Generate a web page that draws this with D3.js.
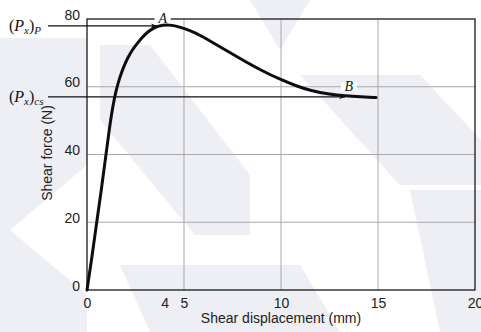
<!DOCTYPE html>
<html>
<head>
<meta charset="utf-8">
<script src="https://cdn.jsdelivr.net/npm/d3@7"></script>
<style>
  body { margin: 0; background: #fff; }
  svg { display: block; }
</style>
</head>
<body>
<div id="chart"></div>
<script>
// Shear force vs shear displacement
const shearDisp  = [0, 0.25, 0.5, 0.75, 0.98, 1.15, 1.32, 1.5, 1.7, 1.9, 2.1, 2.35, 2.6, 3.0, 3.4, 3.9, 4.4, 4.8, 5.3, 5.8, 6.5, 7.3, 8.2, 9.0, 9.9, 10.8, 11.6, 12.5, 13.3, 14.1, 14.9];
const shearForce = [0, 9.5, 20, 30, 40, 47.5, 54, 59, 63, 66, 68.6, 71, 72.9, 75.6, 77.4, 78.3, 78.2, 77.6, 76.6, 75.3, 73, 70.3, 67.3, 64.8, 62.3, 60.2, 58.7, 57.8, 57.3, 57, 56.8];

const xTicks = [0, 4, 5, 10, 15, 20];
const yTicks = [0, 20, 40, 60, 80];
const xGrid = [5, 10, 15];
const yGrid = [20, 40, 60];

const peakForce = 78, peakDisp = 3.6;    // (Px)p, point A
const csForce = 57, csDisp = 13.3;       // (Px)cs, point B

const W = 481, H = 332;
const margin = { top: 19, right: 5, bottom: 42, left: 87 };

const svg = d3.select("#chart").append("svg")
  .attr("width", W)
  .attr("height", H);

// faint watermark shapes in the background
const wm = [
  [[0,38],[87,38],[87,165],[10,230],[87,295],[87,332],[0,332]],
  [[100,45],[150,45],[250,175],[250,235],[195,235],[100,120]],
  [[250,0],[310,0],[280,50]],
  [[300,75],[420,75],[481,140],[481,185],[400,185]],
  [[120,265],[300,265],[340,332],[150,332]],
  [[410,190],[481,190],[481,332],[440,332]]
];
svg.selectAll("polygon.wm")
  .data(wm)
  .join("polygon")
  .attr("class", "wm")
  .attr("points", d => d.map(p => p.join(",")).join(" "))
  .attr("fill", "#eeeef5");

const x = d3.scaleLinear().domain([0, 20]).range([margin.left, W - margin.right - 1]);
const y = d3.scaleLinear().domain([0, 80]).range([H - margin.bottom, margin.top]);

// grid
svg.selectAll("line.vg")
  .data(xGrid)
  .join("line")
  .attr("x1", d => x(d)).attr("x2", d => x(d))
  .attr("y1", y(0)).attr("y2", y(80))
  .attr("stroke", "#a9a9a9").attr("stroke-width", 1);

svg.selectAll("line.hg")
  .data(yGrid)
  .join("line")
  .attr("x1", x(0)).attr("x2", x(20))
  .attr("y1", d => y(d)).attr("y2", d => y(d))
  .attr("stroke", "#a9a9a9").attr("stroke-width", 1);

// frame
svg.append("rect")
  .attr("x", x(0)).attr("y", y(80))
  .attr("width", x(20) - x(0)).attr("height", y(0) - y(80))
  .attr("fill", "none")
  .attr("stroke", "#1a1a1a")
  .attr("stroke-width", 1.3);

// axes
const fontSans = "'Liberation Sans', Arial, sans-serif";

const xAxis = svg.append("g")
  .attr("transform", `translate(0,${y(0)})`)
  .call(d3.axisBottom(x).tickValues(xTicks).tickSize(0).tickPadding(8).tickFormat(d3.format("d")));
xAxis.select(".domain").remove();
xAxis.selectAll("text")
  .attr("font-family", fontSans).attr("font-size", 14).attr("fill", "#222");

const yAxis = svg.append("g")
  .attr("transform", `translate(${x(0)},0)`)
  .call(d3.axisLeft(y).tickValues(yTicks).tickSize(0).tickPadding(7));
yAxis.select(".domain").remove();
yAxis.selectAll("text")
  .attr("font-family", fontSans).attr("font-size", 14).attr("fill", "#222")
  .attr("dy", "0");

svg.append("text")
  .attr("x", 281).attr("y", 323)
  .attr("text-anchor", "middle")
  .attr("font-family", fontSans).attr("font-size", 14).attr("fill", "#222")
  .text("Shear displacement (mm)");

svg.append("text")
  .attr("transform", "translate(52,153) rotate(-90)")
  .attr("text-anchor", "middle")
  .attr("font-family", fontSans).attr("font-size", 14).attr("fill", "#222")
  .text("Shear force (N)");

// arrowhead
svg.append("defs").append("marker")
  .attr("id", "arr")
  .attr("viewBox", "0 0 10 10")
  .attr("refX", 10).attr("refY", 5)
  .attr("markerWidth", 7).attr("markerHeight", 6)
  .attr("markerUnits", "userSpaceOnUse")
  .attr("orient", "auto")
  .append("path")
  .attr("d", "M0,1 L10,5 L0,9 L3,5 Z")
  .attr("fill", "#111");

// reference lines (Px)p and (Px)cs
const refs = [
  { f: peakForce, d: peakDisp, sub: "P" },
  { f: csForce, d: csDisp, sub: "cs" }
];
svg.selectAll("line.ref")
  .data(refs)
  .join("line")
  .attr("x1", 48).attr("x2", d => x(d.d))
  .attr("y1", d => y(d.f)).attr("y2", d => y(d.f))
  .attr("stroke", "#111").attr("stroke-width", 1.2)
  .attr("marker-end", "url(#arr)");

const fontSerif = "'Liberation Serif', 'Times New Roman', serif";
refs.forEach(r => {
  const t = svg.append("text")
    .attr("x", 9).attr("y", y(r.f) + 5)
    .attr("font-family", fontSerif).attr("font-size", 16).attr("fill", "#111");
  t.append("tspan").text("(");
  t.append("tspan").attr("font-style", "italic").text("P");
  t.append("tspan").attr("font-style", "italic").attr("font-size", 11).attr("dy", 3).text("x");
  t.append("tspan").attr("dy", -3).text(")");
  t.append("tspan").attr("font-style", "italic").attr("font-size", 11).attr("dy", 3).text(r.sub);
});

// curve
const pts = shearDisp.map((d, i) => [d, shearForce[i]]);
const line = d3.line()
  .x(d => x(d[0]))
  .y(d => y(d[1]))
  .curve(d3.curveBasis);

svg.append("path")
  .datum(pts)
  .attr("d", line)
  .attr("fill", "none")
  .attr("stroke", "#0d0d0d")
  .attr("stroke-width", 3)
  .attr("stroke-linecap", "round");

// point labels A and B
const labels = [
  { t: "A", d: 3.9, f: 80 },
  { t: "B", d: 13.5, f: 60 }
];
svg.selectAll("rect.lb")
  .data(labels)
  .join("rect")
  .attr("x", d => x(d.d) - 8).attr("y", d => y(d.f) - 4)
  .attr("width", 16).attr("height", 8)
  .attr("fill", "#fff");
svg.selectAll("text.lb")
  .data(labels)
  .join("text")
  .attr("x", d => x(d.d)).attr("y", d => y(d.f) + 4)
  .attr("text-anchor", "middle")
  .attr("font-family", fontSerif).attr("font-style", "italic")
  .attr("font-size", 14).attr("fill", "#111")
  .text(d => d.t);
</script>
</body>
</html>
